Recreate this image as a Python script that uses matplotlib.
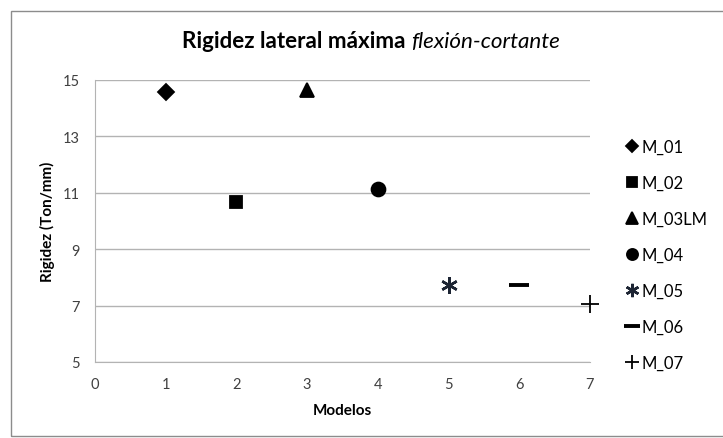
import matplotlib.pyplot as plt
from matplotlib.patches import Rectangle

# data
modelos = ["M_01", "M_02", "M_03LM", "M_04", "M_05", "M_06", "M_07"]
x_vals = [1, 2, 3, 4, 5, 6, 7]
rigidez = [14.57, 10.68, 14.63, 11.15, 7.73, 7.73, 7.05]

markers = ["D", "s", "^", "o", (6, 2, 0), "_", "+"]
sizes = [8, 9, 10, 10, 12, 14, 13]
colors = ["black", "black", "black", "black", "#1c2433", "black", "black"]

plt.rcParams['font.family'] = ['Lato', 'DejaVu Sans']

W, H = 723, 439
fig = plt.figure(figsize=(W / 100, H / 100), dpi=100)
renderer = fig.canvas.get_renderer()


def text_width(t):
    return t.get_window_extent(renderer).width


# plot area: x 95..590 px, y 81..363 px
ax = fig.add_axes([95 / W, 1 - 363 / H, 495 / W, 282 / H])

for i in range(len(modelos)):
    mew = 2.8 if markers[i] == "_" else (1.8 if i == 4 else 1.3)
    ax.plot(x_vals[i], rigidez[i], linestyle="none", marker=markers[i],
            markersize=sizes[i], color=colors[i], markeredgewidth=mew,
            label=modelos[i], clip_on=False)

ax.set_xlim(0, 7)
ax.set_ylim(5, 15)
ax.set_xticks(range(0, 8))
ax.set_yticks([5, 7, 9, 11, 13, 15])
ax.grid(axis="y", color="#b3b3b3", linewidth=1)
ax.set_axisbelow(True)
ax.tick_params(length=0, labelsize=10.5, colors="#404040", pad=11)
for s in ["top", "right"]:
    ax.spines[s].set_visible(False)
for s in ["left", "bottom"]:
    ax.spines[s].set_color("#b3b3b3")

ax.set_xlabel("Modelos", fontsize=11, fontweight="bold")
ax.set_ylabel("Rigidez (Ton/mm)", fontsize=11, fontweight="bold")
ax.xaxis.label.set_va("center")
ax.yaxis.label.set_va("center")
ax.xaxis.set_label_coords(0.5, (363 - 411) / 282)
ax.yaxis.set_label_coords((47 - 95) / 495, 0.5)

# title: bold part + italic part, fitted to span x 182..563 px
t1 = fig.text(0, 0, "Rigidez lateral máxima ", fontsize=14, fontweight="bold", va="center")
t2 = fig.text(0, 0, "flexión-cortante", fontsize=14, style="italic", va="center")
scale = 381 / (text_width(t1) + text_width(t2))
for t in (t1, t2):
    t.set_fontsize(14 * scale)
t1.set_position((182 / W, 1 - 42 / H))
t2.set_position(((182 + text_width(t1)) / W, 1 - 42 / H))

leg = fig.legend(loc="upper left", bbox_to_anchor=(611 / W, 1 - 125 / H), frameon=False,
                 fontsize=12, handlelength=0.7, handletextpad=0.25,
                 labelspacing=1.2, markerscale=0.8)

fig.patches.append(Rectangle((11 / W, 0.005), 1, 1 - 12 / H - 0.005, transform=fig.transFigure,
                             fill=False, edgecolor="#8c8c8c", linewidth=1))

fig.savefig("out.png", dpi=100)
